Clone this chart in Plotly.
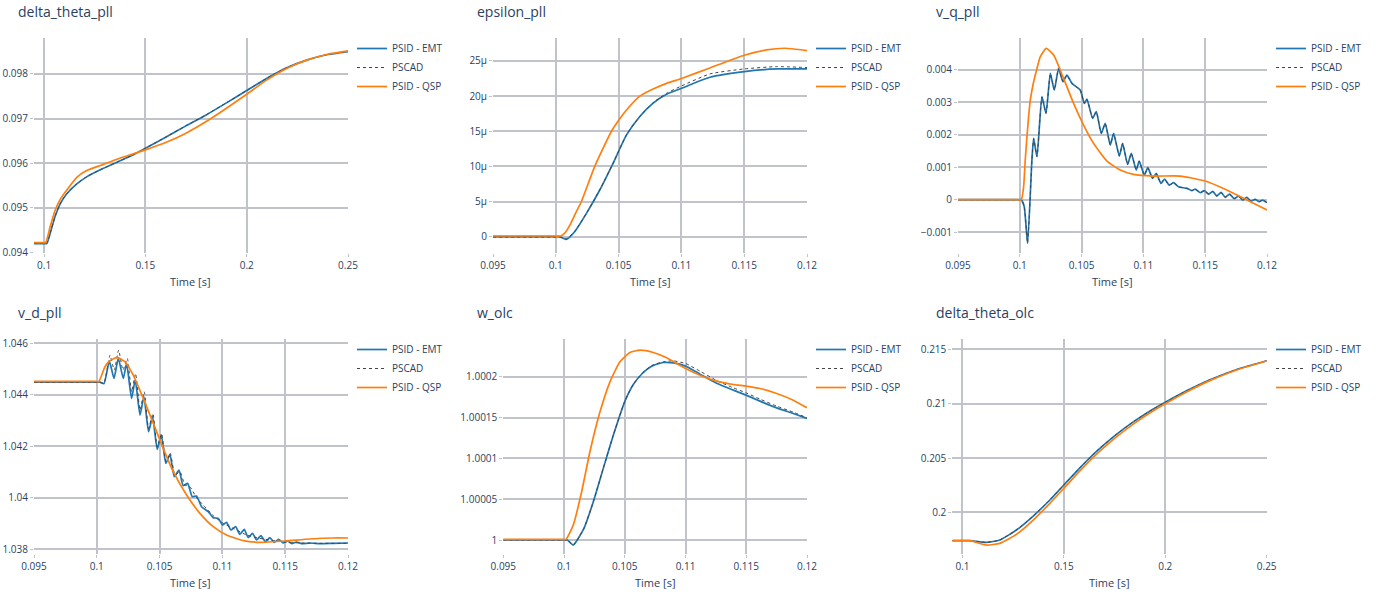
import plotly.graph_objects as go

# ---------------- data ----------------
series_names = ["PSID - EMT", "PSCAD", "PSID - QSP"]
x_title = "Time [s]"
plot_titles = ["delta_theta_pll", "epsilon_pll", "v_q_pll", "v_d_pll", "w_olc", "delta_theta_olc"]

# delta_theta_pll
t_dtp = [0.095, 0.1, 0.1013, 0.103, 0.1054, 0.108, 0.111, 0.116, 0.121, 0.128, 0.136, 0.144, 0.15,
         0.16, 0.17, 0.18, 0.19, 0.2, 0.21, 0.22, 0.23, 0.24, 0.25]
dtp_emt = [0.094201, 0.094201, 0.094201, 0.094433, 0.094806, 0.095097, 0.095306, 0.09553, 0.095694,
           0.095858, 0.096022, 0.096187, 0.096336, 0.096582, 0.096836, 0.097082, 0.097351, 0.097627,
           0.097903, 0.098142, 0.098313, 0.098433, 0.0985]
dtp_pscad = [0.094205, 0.094205, 0.094205, 0.09444, 0.094812, 0.0951, 0.09531, 0.095532, 0.095697,
             0.09586, 0.096024, 0.096189, 0.096338, 0.096584, 0.096838, 0.097084, 0.097353, 0.097629,
             0.097905, 0.098144, 0.098315, 0.098435, 0.098502]
t_dtp_qsp = [0.095, 0.0998, 0.1008, 0.103, 0.1054, 0.108, 0.111, 0.116, 0.121, 0.128, 0.136, 0.144,
             0.15, 0.16, 0.17, 0.18, 0.19, 0.2, 0.21, 0.22, 0.23, 0.24, 0.25]
dtp_qsp = [0.094224, 0.094224, 0.094224, 0.094582, 0.09494, 0.095194, 0.095388, 0.095679, 0.095836,
           0.095955, 0.09609, 0.096209, 0.096299, 0.096463, 0.096672, 0.096933, 0.097231, 0.097545,
           0.097866, 0.098127, 0.098313, 0.09844, 0.098515]

# epsilon_pll
t_eps = [0.095, 0.0999, 0.1003, 0.10084, 0.1015, 0.10244, 0.1035, 0.10456, 0.10563, 0.10669, 0.10775,
         0.10882, 0.11001, 0.11227, 0.115, 0.11758, 0.12]
eps_emt = [0.0, 0.0, 0.0, -0.38e-6, 0.71e-6, 3.32e-6, 6.64e-6, 10.44e-6, 14.47e-6, 17.1e-6, 19.0e-6,
           20.26e-6, 21.11e-6, 22.68e-6, 23.48e-6, 23.86e-6, 23.86e-6]
eps_pscad = [-0.05e-6, -0.05e-6, -0.05e-6, -0.3e-6, 0.75e-6, 3.35e-6, 6.66e-6, 10.46e-6, 14.48e-6,
             17.12e-6, 19.05e-6, 20.4e-6, 21.44e-6, 23.15e-6, 23.86e-6, 24.19e-6, 24.05e-6]
t_eps_qsp = [0.095, 0.0999, 0.10039, 0.10071, 0.10111, 0.10151, 0.10204, 0.10257, 0.1031, 0.10377,
             0.10443, 0.10502, 0.10576, 0.10669, 0.10775, 0.10882, 0.11001, 0.11227, 0.115, 0.11679,
             0.11825, 0.12]
eps_qsp = [0.1e-6, 0.1e-6, 0.1e-6, 0.5e-6, 1.6e-6, 3.1e-6, 5.0e-6, 7.5e-6, 10.0e-6, 12.6e-6, 15.0e-6,
           16.6e-6, 18.3e-6, 20.0e-6, 21.0e-6, 21.8e-6, 22.5e-6, 24.0e-6, 25.8e-6, 26.57e-6, 26.8e-6,
           26.47e-6]

# v_q_pll
t_vq = [0.095, 0.0999, 0.10012, 0.10036, 0.10063, 0.10098, 0.10112, 0.10139, 0.10179, 0.10212, 0.10247,
        0.10279, 0.10314, 0.10349, 0.10381, 0.10422, 0.10489, 0.10522, 0.10543, 0.10589, 0.10619,
        0.10659, 0.10691, 0.10732, 0.10759, 0.10805, 0.10832, 0.10872, 0.10902, 0.10942, 0.10966,
        0.11007, 0.11036, 0.11074, 0.11104, 0.11142, 0.11171, 0.11209, 0.11244, 0.11284, 0.11352,
        0.11392, 0.11419, 0.1146, 0.11492, 0.11527, 0.11562, 0.11594, 0.11629, 0.11662, 0.11697,
        0.11735, 0.1177, 0.11802, 0.11837, 0.11869, 0.11904, 0.11937, 0.11966, 0.12]
vq_emt = [0.0, 0.0, 0.0, -0.000215, -0.001344, 0.00122, 0.001887, 0.001323, 0.003169, 0.002656, 0.003887,
          0.003374, 0.004041, 0.003631, 0.003836, 0.003579, 0.003374, 0.002964, 0.003097, 0.002503,
          0.002708, 0.002041, 0.002349, 0.001682, 0.002041, 0.001344, 0.001733, 0.001087, 0.001426,
          0.000913, 0.00119, 0.000759, 0.000985, 0.000656, 0.00081, 0.000503, 0.000636, 0.000451,
          0.000523, 0.0004, 0.000349, 0.000277, 0.000328, 0.000215, 0.000277, 0.000174, 0.000256,
          0.000113, 0.000226, 0.000072, 0.000174, 0.000031, 0.000113, -0.00001, 0.000072, -0.000041,
          0.00001, -0.000062, -0.00001, -0.000092]
vq_pscad = [0.0, 0.0, 0.0, -0.00021, -0.00133, 0.00121, 0.00188, 0.00133, 0.00316, 0.00266, 0.00388,
            0.00338, 0.00403, 0.00364, 0.00383, 0.00358, 0.00337, 0.00297, 0.00309, 0.00251,
            0.0027, 0.00205, 0.00234, 0.00169, 0.00203, 0.00135, 0.00173, 0.00109, 0.00142,
            0.00092, 0.00119, 0.00076, 0.00098, 0.00066, 0.00081, 0.00051, 0.00063, 0.00045,
            0.00052, 0.0004, 0.00035, 0.00028, 0.00033, 0.00022, 0.00028, 0.00018, 0.00025,
            0.00012, 0.00022, 0.00008, 0.00017, 0.00004, 0.00011, 0.0, 0.00007, -0.00004,
            0.00001, -0.00006, -0.00001, -0.00009]
t_vq_qsp = [0.095, 0.0998, 0.10012, 0.10031, 0.10044, 0.10058, 0.10071, 0.10085, 0.10112, 0.10139,
            0.10166, 0.10214, 0.10274, 0.10354, 0.10435, 0.10516, 0.10597, 0.10705, 0.10813, 0.1092,
            0.11082, 0.11298, 0.115, 0.11675, 0.11837, 0.12]
vq_qsp = [0.0, 0.0, 0.0, 0.0004, 0.00122, 0.00194, 0.00255, 0.00307, 0.00363, 0.00404, 0.0044,
          0.004656, 0.004451, 0.003733, 0.002964, 0.002297, 0.001733, 0.00119, 0.000913, 0.000779,
          0.000728, 0.000728, 0.000574, 0.000297, -0.00001, -0.000318]

# v_d_pll
t_vd = [0.095, 0.0999, 0.10025, 0.10057, 0.101, 0.10137, 0.10171, 0.10211, 0.10237, 0.10277, 0.10306,
        0.10344, 0.10375, 0.10412, 0.10444, 0.10481, 0.10513, 0.1055, 0.10582, 0.10617, 0.10654,
        0.10688, 0.10723, 0.1076, 0.10794, 0.10834, 0.10887, 0.10927, 0.10967, 0.11001, 0.11033,
        0.11068, 0.11105, 0.11139, 0.11174, 0.11206, 0.1124, 0.11272, 0.11306, 0.11344, 0.11378,
        0.11412, 0.11447, 0.11484, 0.11516, 0.11553, 0.1159, 0.1163, 0.11696, 0.11776, 0.11882, 0.12]
vd_emt = [1.044492, 1.044492, 1.044492, 1.044427, 1.045307, 1.044634, 1.045411, 1.044634, 1.045217,
          1.043858, 1.04457, 1.04321, 1.043922, 1.042563, 1.043146, 1.041877, 1.042434, 1.041333,
          1.041683, 1.040816, 1.041074, 1.040466, 1.040557, 1.040039, 1.040065, 1.03965, 1.039456,
          1.039223, 1.039197, 1.038939, 1.039042, 1.038744, 1.038874, 1.038576, 1.03877, 1.038447,
          1.038615, 1.038356, 1.038524, 1.038291, 1.038447, 1.038265, 1.038382, 1.038239, 1.038317,
          1.038214, 1.038278, 1.038214, 1.038239, 1.038214, 1.038227, 1.038239]
t_vd_pscad = [0.095, 0.0999, 0.10025, 0.10057, 0.10105, 0.10139, 0.10174, 0.10208, 0.10243, 0.10277,
              0.10309, 0.10344, 0.10378, 0.10412, 0.10447, 0.10481, 0.10516, 0.1055, 0.10585, 0.10622,
              0.10662, 0.10702, 0.10741, 0.10794, 0.10847, 0.10927, 0.11007, 0.11086, 0.11192,
              0.11298, 0.11431, 0.11564, 0.11749, 0.12]
vd_pscad = [1.044479, 1.044479, 1.044479, 1.044453, 1.04554, 1.044958, 1.045735, 1.044958, 1.045411,
            1.044117, 1.044828, 1.043405, 1.044117, 1.042693, 1.043275, 1.041981, 1.042498, 1.041398,
            1.041722, 1.04088, 1.04101, 1.040492, 1.040427, 1.04, 1.039715, 1.039301, 1.039003,
            1.038809, 1.03855, 1.038421, 1.038317, 1.038252, 1.038227, 1.038227]
t_vd_qsp = [0.095, 0.0999, 0.10017, 0.10065, 0.10105, 0.10163, 0.10224, 0.1029, 0.1037, 0.1045, 0.10529,
            0.10609, 0.10715, 0.10821, 0.10927, 0.11033, 0.11166, 0.11298, 0.11497, 0.11696, 0.11882, 0.12]
vd_qsp = [1.044518, 1.044518, 1.044518, 1.045087, 1.04532, 1.04545, 1.045282, 1.044764, 1.043858,
          1.042887, 1.041916, 1.04101, 1.040104, 1.039392, 1.038874, 1.03855, 1.03833, 1.038265,
          1.038317, 1.038395, 1.038434, 1.038434]

# w_olc
t_w = [0.095, 0.0999, 0.10027, 0.10076, 0.10164, 0.10241, 0.10323, 0.10406, 0.10499, 0.1057, 0.10644,
       0.10721, 0.10817, 0.109, 0.11001, 0.11119, 0.11256, 0.11394, 0.11498, 0.11613, 0.1175, 0.11887, 0.12]
w_emt = [1.0, 1.0, 1.0, 0.9999939, 1.0000143, 1.0000469, 1.0000878, 1.0001286, 1.0001694, 1.0001906,
         1.0002041, 1.0002131, 1.0002176, 1.0002171, 1.0002131, 1.0002033, 1.0001922, 1.0001837,
         1.0001776, 1.0001702, 1.000162, 1.0001551, 1.000149]
w_pscad = [1.0, 1.0, 1.0, 0.999994, 1.0000145, 1.000047, 1.000088, 1.0001288, 1.0001696, 1.0001908,
           1.0002045, 1.0002138, 1.0002185, 1.0002196, 1.0002163, 1.0002069, 1.0001955, 1.0001865,
           1.0001804, 1.0001727, 1.0001641, 1.0001567, 1.0001498]
t_w_qsp = [0.095, 0.0998, 0.10016, 0.10076, 0.10145, 0.10213, 0.10296, 0.10378, 0.1046, 0.10543, 0.10625,
           0.10735, 0.10845, 0.11001, 0.11119, 0.11256, 0.11394, 0.11498, 0.11613, 0.1175, 0.11887, 0.12]
w_qsp = [1.0000008, 1.0000008, 1.0000008, 1.0000184, 1.0000592, 1.0001082, 1.0001571, 1.0001939,
         1.0002184, 1.0002298, 1.0002327, 1.0002298, 1.0002233, 1.0002102, 1.000202, 1.0001947,
         1.0001906, 1.0001886, 1.0001857, 1.0001796, 1.0001714, 1.000162]

# delta_theta_olc
t_dto = [0.095, 0.1036, 0.1118, 0.1184, 0.1266, 0.1349, 0.1431, 0.15, 0.1579, 0.1661, 0.175, 0.1842,
         0.1941, 0.2, 0.2105, 0.222, 0.2352, 0.25]
dto_emt = [0.197393, 0.197393, 0.197239, 0.197454, 0.198374, 0.199663, 0.201135, 0.202515, 0.204095,
           0.205612, 0.207036, 0.208324, 0.209512, 0.210132, 0.211182, 0.212194, 0.213144, 0.213944]
dto_pscad = [0.197395, 0.197395, 0.197242, 0.197456, 0.198376, 0.199665, 0.201137, 0.202517, 0.204097,
             0.205614, 0.207038, 0.208326, 0.209514, 0.210134, 0.211184, 0.212196, 0.213146, 0.213946]
dto_qsp = [0.197393, 0.197393, 0.196994, 0.197147, 0.197975, 0.199294, 0.200828, 0.202209, 0.20381,
           0.20535, 0.2068, 0.20812, 0.20935, 0.21, 0.21108, 0.21212, 0.2131, 0.21392]

# axis settings (ranges / tick steps)
x_ranges = [[0.095, 0.25], [0.095, 0.12], [0.095, 0.12], [0.095, 0.12], [0.095, 0.12], [0.095, 0.25]]
x_dticks = [0.05, 0.005, 0.005, 0.005, 0.005, 0.05]
y_ranges = [[0.09399, 0.09881], [-2.32e-6, 28.3e-6], [-0.00164, 0.004985],
            [1.0378, 1.046155], [0.9999825, 1.000246], [0.19614, 0.21592]]
y_dticks = [0.001, 5e-6, 0.001, 0.002, 0.00005, 0.005]

panels = [
    (t_dtp, dtp_emt, t_dtp, dtp_pscad, t_dtp_qsp, dtp_qsp),
    (t_eps, eps_emt, t_eps, eps_pscad, t_eps_qsp, eps_qsp),
    (t_vq, vq_emt, t_vq, vq_pscad, t_vq_qsp, vq_qsp),
    (t_vd, vd_emt, t_vd_pscad, vd_pscad, t_vd_qsp, vd_qsp),
    (t_w, w_emt, t_w, w_pscad, t_w_qsp, w_qsp),
    (t_dto, dto_emt, t_dto, dto_pscad, t_dto, dto_qsp),
]

# ---------------- layout geometry (page pixels) ----------------
W, H = 1379, 595
col_px = [(34, 348), (493, 807), (958, 1267), (34, 348), (503.3, 807), (952.3, 1266.7)]
row_px = [(37.7, 253), (339.3, 554.3)]
title_x_px = [16, 475, 934]
title_y_px = [11, 312]
xtitle_y_px = [281, 582]
legend_x_px = [352, 811, 1271]
legend_y_px = [34, 335]

def px_x(p):
    return p / W

def px_y(p):
    return 1 - p / H

BLUE = "#1f77b4"
ORANGE = "#ff7f0e"
DOT = "#444444"
TXT = "#2a3f5f"
GRID = "#c0c3c9"

fig = go.Figure()
styles = [
    dict(color=BLUE, width=1.7),
    dict(color=DOT, width=1, dash="dot"),
    dict(color=ORANGE, width=1.7),
]

layout = dict(
    width=W, height=H,
    margin=dict(l=0, r=0, t=0, b=0),
    paper_bgcolor="white", plot_bgcolor="white",
    font=dict(family="Open Sans, verdana, arial, sans-serif", color=TXT, size=10),
    showlegend=True,
    annotations=[],
)

for i, pdata in enumerate(panels):
    k = "" if i == 0 else str(i + 1)
    r = i // 3
    c = i % 3
    xs = [pdata[0], pdata[2], pdata[4]]
    ys = [pdata[1], pdata[3], pdata[5]]
    leg = "legend" + k
    for j in range(3):
        fig.add_trace(go.Scatter(
            x=xs[j], y=ys[j], mode="lines", name=series_names[j],
            line=dict(shape="spline", smoothing=0.5, **styles[j]),
            xaxis="x" + k, yaxis="y" + k, legend=leg,
        ))
    x0, x1 = col_px[i]
    y0, y1 = row_px[r]
    common = dict(
        tick0=0, showgrid=True, gridcolor=GRID, gridwidth=1.5,
        zeroline=False, showline=False, ticks="outside", ticklen=3, tickcolor=GRID,
        tickfont=dict(size=10, color=TXT), automargin=False,
    )
    layout["xaxis" + k] = dict(
        domain=[px_x(x0), px_x(x1)], anchor="y" + k, range=x_ranges[i], dtick=x_dticks[i], **common
    )
    layout["yaxis" + k] = dict(
        domain=[px_y(y1), px_y(y0)], anchor="x" + k, range=y_ranges[i], dtick=y_dticks[i], **common
    )
    layout[leg] = dict(
        x=px_x(legend_x_px[c]), y=px_y(legend_y_px[r]), xanchor="left", yanchor="top",
        font=dict(size=10, color=TXT), bgcolor="rgba(0,0,0,0)", tracegroupgap=0,
    )
    layout["annotations"].append(dict(
        text=plot_titles[i], xref="paper", yref="paper",
        x=px_x(title_x_px[c]), y=px_y(title_y_px[r]), xanchor="left", yanchor="middle",
        showarrow=False, font=dict(size=14, color=TXT),
    ))
    layout["annotations"].append(dict(
        text=x_title, xref="paper", yref="paper",
        x=px_x((x0 + x1) / 2), y=px_y(xtitle_y_px[r]), xanchor="center", yanchor="middle",
        showarrow=False, font=dict(size=11, color=TXT),
    ))

fig.update_layout(**layout)
# the page's default 8px body margin would push the 1379x595 figure out of the window
fig.write_html("out.html", config={"displayModeBar": False},
               post_script="document.body.style.margin='0';")
